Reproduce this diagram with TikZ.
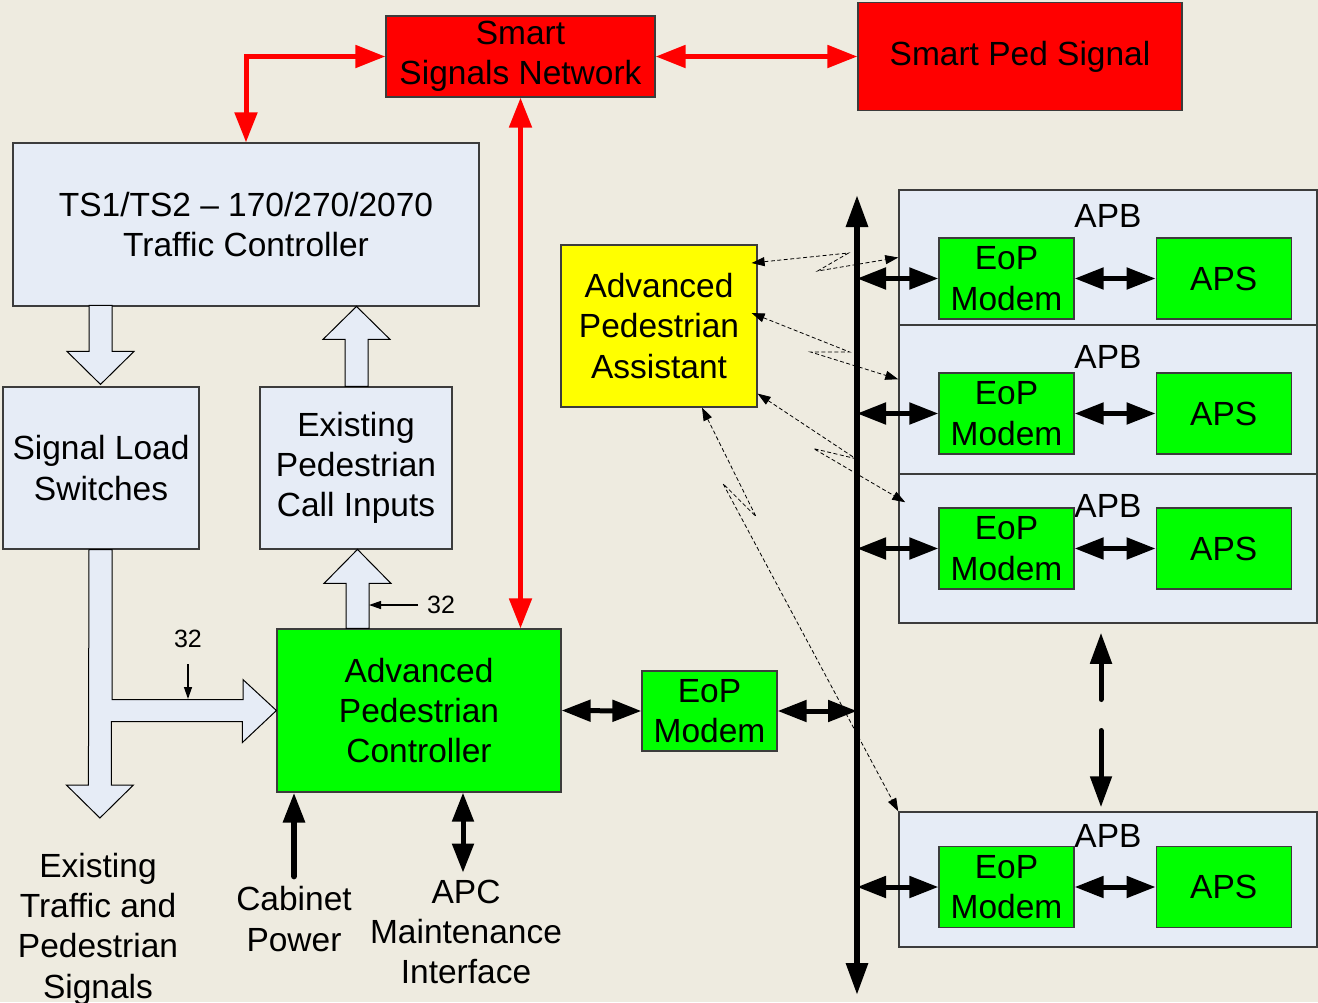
\documentclass[tikz,border=0pt]{standalone}
\usepackage{fontspec}
\setmainfont{Liberation Sans}
\usetikzlibrary{arrows.meta,positioning,calc}
\definecolor{bgbeige}{RGB}{238,235,224}
\definecolor{paleblue}{RGB}{230,236,246}
\definecolor{boxgreen}{RGB}{0,255,0}
\definecolor{boxred}{RGB}{255,0,0}
\definecolor{boxyellow}{RGB}{255,255,0}
\definecolor{edgegray}{RGB}{60,60,60}
\newcommand{\diagfont}{\fontsize{33.5}{40.3}\selectfont}
\newcommand{\numfont}{\fontsize{25}{30}\selectfont}
\tikzset{
    lightbox/.style={
        rectangle,
        draw=edgegray,
        line width=1.2pt,
        fill=paleblue,
        inner sep=0pt,
        align=center,
        font=\diagfont,
    },
    redbox/.style={
        lightbox,
        fill=boxred,
    },
    greenbox/.style={
        lightbox,
        fill=boxgreen,
    },
    yellowbox/.style={
        lightbox,
        fill=boxyellow,
    },
    apbbox/.style={
        lightbox,
        line width=1.5pt,
        minimum width=418pt,
    },
    modem/.style={
        greenbox,
        minimum width=135pt,
        minimum height=81pt,
    },
    txt/.style={
        inner sep=0pt,
        align=center,
        font=\diagfont,
    },
    numtxt/.style={
        inner sep=0pt,
        font=\numfont,
    },
    hollow/.style={
        draw=black,
        line width=1pt,
        fill=paleblue,
        line join=miter,
    },
    redlink/.style={
        draw=boxred,
        line width=5pt,
        <->,>={Triangle[length=30pt,width=22pt]},
    },
    blklink/.style={
        draw=black,
        line width=5pt,
        <->,>={Triangle[length=29pt,width=21pt]},
    },
    busline/.style={
        draw=black,
        line width=6pt,
        <->,>={Triangle[length=32pt,width=21pt]},
    },
    cablink/.style={
        draw=black,
        line width=6pt,
        line cap=round,
        ->,>={Triangle[length=30pt,width=21pt]},
    },
    gapdash/.style={
        draw=black,
        line width=5pt,
        line cap=round,
        dash pattern=on 37pt off 31pt on 60pt,
        <->,>={Triangle[length=31pt,width=21pt]},
    },
    wless/.style={
        draw=black,
        line width=0.8pt,
        dash pattern=on 4pt off 2.5pt,
        <->,>={Triangle[length=13pt,width=9pt]},
    },
    numarr/.style={
        draw=black,
        line width=1.3pt,
        ->,>={Triangle[length=12pt,width=8pt]},
    },
}

\begin{document}
\begin{tikzpicture}[x=1pt,y=-1pt]
    \fill[bgbeige] (0,0) rectangle (1318,1002);
    \useasboundingbox (0,0) rectangle (1318,1002);

    % network
    \node [redbox, minimum width=269pt, minimum height=81pt] (ssn) at (520.5,56.5) {Smart\\Signals Network};
    \node [redbox, minimum width=324pt, minimum height=108pt] (sps) at (1020,56.5) {Smart Ped Signal};

    % cabinet
    \node [lightbox, minimum width=466pt, minimum height=163pt] (ts) at (246,224.5) {TS1/TS2 – 170/270/2070\\Traffic Controller};
    \node [lightbox, minimum width=196pt, minimum height=162pt] (sls) at (101,468) {Signal Load\\Switches};
    \node [lightbox, minimum width=192pt, minimum height=162pt] (epci) at (356,468) {Existing\\Pedestrian\\Call Inputs};
    \node [greenbox, minimum width=284pt, minimum height=163pt] (apc) at (419,710.5) {Advanced\\Pedestrian\\Controller};
    \node [modem, minimum height=80pt] (eop0) at (709.5,711) {EoP\\Modem};
    \node [yellowbox, minimum width=196pt, minimum height=162pt] (apa) at (659,326) {Advanced\\Pedestrian\\Assistant};

    \node [txt] (sigout) at (98,929) {Existing\\Traffic and\\Pedestrian\\Signals};
    \node [txt] (cab) at (294,919) {Cabinet\\Power};
    \node [txt] (apcmi) at (466,932) {APC\\Maintenance\\Interface};
    \node [numtxt] (n32a) at (188,639) {32};
    \node [numtxt] (n32b) at (441,605) {32};

    % push buttons
    \node [apbbox, minimum height=135pt] (apb1) at (1108,257.5) {};
    \node [apbbox, minimum height=149pt] (apb2) at (1108,399.5) {};
    \node [apbbox, minimum height=149pt] (apb3) at (1108,548.5) {};
    \node [apbbox, minimum height=135pt] (apb4) at (1108,879.5) {};
    \node [txt] (apbt1) at ($(apb1.north)+(0,27)$) {APB};
    \node [txt] (apbt2) at ($(apb2.north)+(0,33)$) {APB};
    \node [txt] (apbt3) at ($(apb3.north)+(0,33)$) {APB};
    \node [txt] (apbt4) at ($(apb4.north)+(0,25)$) {APB};
    \node [modem] (eop1) at (1006.5,278.5) {EoP\\Modem};
    \node [modem, right=81pt of eop1] (aps1) {APS};
    \node [modem] (eop2) at (1006.5,413.5) {EoP\\Modem};
    \node [modem, right=81pt of eop2] (aps2) {APS};
    \node [modem] (eop3) at (1006.5,548.5) {EoP\\Modem};
    \node [modem, right=81pt of eop3] (aps3) {APS};
    \node [modem] (eop4) at (1006.5,887) {EoP\\Modem};
    \node [modem, right=81pt of eop4] (aps4) {APS};

    \coordinate (bustop) at (857,195);
    \coordinate (busbot) at (857,995);

    % block arrows
    \draw [hollow] ($(sls.north)+(-12,-81)$) -- ++(23,0) -- ++(0,46) -- ++(22,0) -- ++(-33.5,33) -- ++(-33.5,-33) -- ++(22,0) -- cycle;
    \draw [hollow] ($(epci.north)+(-11,0)$) -- ++(23,0) -- ++(0,-47) -- ++(22,0) -- ++(-33.5,-33) -- ++(-33.5,33) -- ++(22,0) -- cycle;
    \draw [hollow] ($(apc.north)+(-73,0)$) -- ++(23,0) -- ++(0,-45) -- ++(22,0) -- ++(-33.5,-34) -- ++(-33.5,34) -- ++(22,0) -- cycle;
    \draw [hollow] ($(sls.south)+(-12,0)$) -- ++(23,0) -- ++(0,150) -- ++(131,0) -- ++(0,-20) -- (apc.west) -- ++(-34,32) -- ++(0,-21) -- ++(-131,0) -- ++(0,63.5) -- ++(22,0) -- ++(-33.5,33) -- ++(-33.5,-33) -- ++(22,0) -- cycle;
    \draw [numarr] ($(n32a)+(0,25)$) -- ++(0,35);
    \draw [numarr] ($(n32b)+(-23,0)$) -- ++(-49,0);

    % red links
    \draw [redlink] (ssn.west) -| (ts.north);
    \draw [redlink] (ssn.east) -- (sps.west);
    \draw [redlink] (ssn.south) -- (ssn.south |- apc.north);

    % wireless
    \draw [wless] ($(apa.east)+(-6,-63)$) -- ++(97,-10) -- ++(-31,18) -- (apb1.west);
    \draw [wless] ($(apa.east)+(-6,-13)$) -- ++(98,39) -- ++(-39,0) -- ($(apb2.north west)+(0,55)$);
    \draw [wless] ($(apa.south east)+(0,-14)$) -- ++(98,65) -- ++(-42,-10) -- ($(apb3.north west)+(7,29)$);
    \draw [wless] ($(apa.south)+(43,0)$) -- ++(54,109) -- ++(-33,-33) -- (apb4.north west);

    % bus
    \draw [busline] (busbot) -- (bustop);
    \draw [blklink] (apc.east) -- (eop0.west);
    \draw [blklink] (eop0.east) -- (eop0.east -| bustop);
    \draw [blklink] (eop1.west -| bustop) -- (eop1.west);
    \draw [blklink] (eop1.east) -- (aps1.west);
    \draw [blklink] (eop2.west -| bustop) -- (eop2.west);
    \draw [blklink] (eop2.east) -- (aps2.west);
    \draw [blklink] (eop3.west -| bustop) -- (eop3.west);
    \draw [blklink] (eop3.east) -- (aps3.west);
    \draw [blklink] (eop4.west -| bustop) -- (eop4.west);
    \draw [blklink] (eop4.east) -- (aps4.west);
    \draw [gapdash] ($(apb3.south)+(-7,9)$) -- ($(apb4.north)+(-7,-4)$);

    % cabinet inputs
    \draw [cablink] ($(cab.north)+(0,-10)$) -- (cab.north |- apc.south);
    \draw [blklink] ($(apc.south)+(44,80)$) -- ($(apc.south)+(44,0)$);
\end{tikzpicture}
\end{document}
